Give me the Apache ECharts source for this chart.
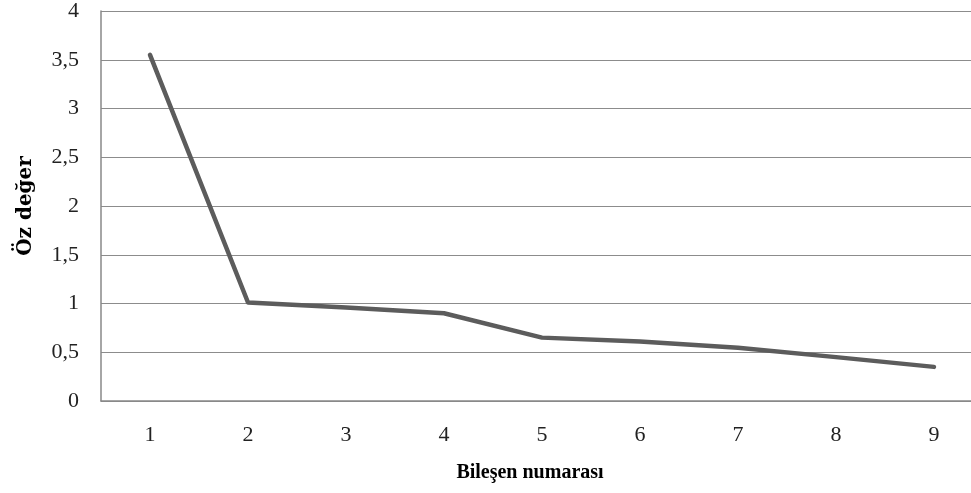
<!DOCTYPE html>
<html>
<head>
<meta charset="utf-8">
<script src="https://cdn.jsdelivr.net/npm/echarts@6/dist/echarts.min.js"></script>
<style>html,body{margin:0;padding:0;background:#fff;overflow:hidden;width:971px;height:493px}#c{width:983px;height:493px}</style>
</head>
<body>
<div id="c"></div>
<script>
var categories = ['1','2','3','4','5','6','7','8','9'];
var eigenValues = [3.55, 1.01, 0.96, 0.9, 0.65, 0.61, 0.545, 0.45, 0.35];
var xTitle = 'Bileşen numarası';
var yTitle = 'Öz değer';

var chart = echarts.init(document.getElementById('c'));
var font = '"Liberation Serif", "DejaVu Serif", serif';
chart.setOption({
  animation: false,
  grid: { left: 101, right: 0, top: 10, bottom: 92 },
  xAxis: {
    type: 'category',
    data: categories,
    boundaryGap: true,
    name: xTitle,
    nameLocation: 'middle',
    nameGap: 62,
    nameTextStyle: { fontFamily: font, fontSize: 20, fontWeight: 'bold', color: '#000', padding: [0, 24, 0, 0] },
    axisLine: { lineStyle: { color: '#888', width: 1.5 } },
    axisTick: { show: false },
    axisLabel: { fontFamily: font, fontSize: 22, color: '#222', margin: 23 }
  },
  yAxis: {
    type: 'value',
    min: 0, max: 4, interval: 0.5,
    name: yTitle,
    nameLocation: 'middle',
    nameGap: 65,
    nameRotate: 90,
    nameTextStyle: { fontFamily: '"DejaVu Serif", serif', fontSize: 20, fontWeight: 'bold', color: '#000' },
    axisLine: { show: true, lineStyle: { color: '#888', width: 1.5 } },
    axisTick: { show: false },
    splitLine: { lineStyle: { color: '#8c8c8c', width: 1.2 } },
    axisLabel: {
      fontFamily: font, fontSize: 22, color: '#222', margin: 22,
      formatter: function (v) { return String(v).replace('.', ','); }
    }
  },
  series: [{
    type: 'line',
    data: eigenValues,
    symbol: 'none',
    lineStyle: { color: '#5c5c5c', width: 4.5, cap: 'round', join: 'round' }
  }]
});
</script>
</body>
</html>
